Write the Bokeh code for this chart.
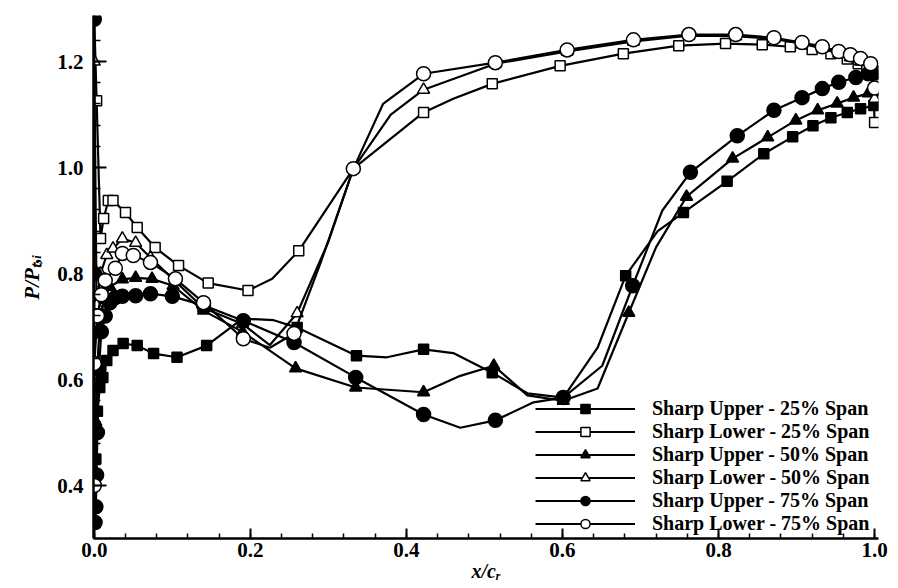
from bokeh.plotting import figure
from bokeh.models import (Range1d, FixedTicker, NumeralTickFormatter,
                          Legend, LegendItem, ColumnDataSource)
from bokeh.embed import file_html
from bokeh.resources import INLINE

# ---------------- data ----------------
su25_x = [0.0, 0.002, 0.004, 0.007, 0.011, 0.016, 0.024, 0.037, 0.055, 0.076, 0.106, 0.144,
          0.19, 0.23, 0.26, 0.336, 0.375, 0.422, 0.46, 0.51, 0.555, 0.601, 0.645, 0.681,
          0.722, 0.755, 0.811, 0.858, 0.895, 0.921, 0.944, 0.965, 0.982, 0.999]
su25_y = [0.36, 0.45, 0.54, 0.585, 0.604, 0.636, 0.655, 0.668, 0.664, 0.649, 0.642, 0.664,
          0.715, 0.712, 0.698, 0.645, 0.642, 0.657, 0.65, 0.613, 0.574, 0.566, 0.66, 0.796,
          0.88, 0.915, 0.974, 1.026, 1.058, 1.079, 1.094, 1.104, 1.111, 1.117]
su25_m = [1, 1, 1, 1, 1, 1, 1, 1, 1, 1, 1, 1,
          0, 0, 1, 1, 0, 1, 0, 1, 0, 1, 0, 1,
          0, 1, 1, 1, 1, 1, 1, 1, 1, 1]

sl25_x = [0.0, 0.003, 0.008, 0.012, 0.018, 0.024, 0.04, 0.055, 0.078, 0.108, 0.146, 0.197,
          0.228, 0.262, 0.332, 0.422, 0.46, 0.51, 0.597, 0.678, 0.749, 0.809, 0.856, 0.892,
          0.92, 0.944, 0.965, 0.979, 0.99, 0.998, 1.0]
sl25_y = [1.28, 1.126, 0.866, 0.904, 0.938, 0.938, 0.915, 0.887, 0.849, 0.815, 0.782, 0.768,
          0.79, 0.843, 0.998, 1.104, 1.13, 1.158, 1.192, 1.215, 1.23, 1.234, 1.232, 1.228,
          1.223, 1.215, 1.205, 1.196, 1.185, 1.175, 1.085]
sl25_m = [0, 1, 1, 1, 1, 1, 1, 1, 1, 1, 1, 1,
          0, 1, 0, 1, 0, 1, 1, 1, 1, 1, 1, 1,
          1, 1, 1, 1, 1, 1, 1]

su50_x = [0.0, 0.002, 0.004, 0.007, 0.012, 0.02, 0.036, 0.053, 0.074, 0.101, 0.14, 0.19,
          0.258, 0.335, 0.422, 0.469, 0.512, 0.555, 0.601, 0.645, 0.685, 0.72, 0.759, 0.818,
          0.863, 0.899, 0.927, 0.952, 0.973, 0.992, 1.0]
su50_y = [0.40, 0.52, 0.63, 0.70, 0.75, 0.775, 0.789, 0.792, 0.79, 0.777, 0.73, 0.69,
          0.621, 0.585, 0.576, 0.607, 0.626, 0.57, 0.56, 0.583, 0.726, 0.85, 0.945, 1.017,
          1.057, 1.089, 1.108, 1.121, 1.132, 1.14, 1.142]
su50_m = [1, 1, 1, 1, 1, 1, 1, 1, 1, 1, 1, 1,
          1, 1, 1, 0, 1, 0, 1, 0, 1, 0, 1, 1,
          1, 1, 1, 1, 1, 1, 1]

sl50_x = [0.0, 0.003, 0.008, 0.016, 0.024, 0.036, 0.053, 0.072, 0.104, 0.14, 0.19, 0.225,
          0.26, 0.30, 0.332, 0.38, 0.422, 0.514, 0.606, 0.691, 0.762, 0.822, 0.871, 0.907,
          0.933, 0.954, 0.969, 0.982, 0.995, 1.0]
sl50_y = [1.2, 0.74, 0.80, 0.835, 0.847, 0.866, 0.858, 0.83, 0.785, 0.735, 0.705, 0.665,
          0.725, 0.86, 0.998, 1.10, 1.147, 1.196, 1.219, 1.238, 1.249, 1.248, 1.243, 1.234,
          1.225, 1.215, 1.208, 1.2, 1.185, 1.13]
sl50_m = [1, 1, 1, 1, 1, 1, 1, 1, 1, 1, 1, 0,
          1, 0, 0, 0, 1, 1, 1, 1, 1, 1, 1, 1,
          1, 1, 1, 1, 1, 1]

su75_x = [0.0, 0.0, 0.001, 0.002, 0.003, 0.004, 0.006, 0.009, 0.014, 0.02, 0.027, 0.036,
          0.053, 0.072, 0.1, 0.14, 0.191, 0.256, 0.335, 0.422, 0.469, 0.514, 0.563, 0.601,
          0.651, 0.69, 0.728, 0.764, 0.824, 0.871, 0.907, 0.933, 0.954, 0.976, 0.992, 1.0]
su75_y = [1.28, 0.80, 0.33, 0.36, 0.42, 0.50, 0.62, 0.69, 0.72, 0.745, 0.755, 0.757,
          0.758, 0.762, 0.757, 0.74, 0.711, 0.67, 0.604, 0.534, 0.509, 0.523, 0.557, 0.566,
          0.626, 0.777, 0.919, 0.991, 1.06, 1.108, 1.132, 1.149, 1.161, 1.17, 1.177, 1.18]
su75_m = [1, 1, 1, 1, 1, 1, 1, 1, 1, 1, 1, 1,
          1, 1, 1, 1, 1, 1, 1, 1, 0, 1, 0, 1,
          0, 1, 0, 1, 1, 1, 1, 1, 1, 1, 1, 1]

sl75_x = [0.0, 0.0, 0.004, 0.009, 0.014, 0.027, 0.036, 0.05, 0.072, 0.104, 0.14, 0.191,
          0.225, 0.256, 0.29, 0.332, 0.37, 0.422, 0.514, 0.606, 0.691, 0.762, 0.822, 0.871,
          0.907, 0.933, 0.954, 0.969, 0.982, 0.995, 1.0]
sl75_y = [0.40, 0.63, 0.72, 0.76, 0.787, 0.81, 0.838, 0.834, 0.821, 0.79, 0.745, 0.677,
          0.66, 0.687, 0.82, 0.998, 1.12, 1.177, 1.198, 1.222, 1.241, 1.251, 1.251, 1.245,
          1.236, 1.228, 1.219, 1.213, 1.206, 1.196, 1.15]
sl75_m = [1, 1, 1, 1, 1, 1, 1, 1, 1, 1, 1, 1,
          0, 1, 0, 1, 0, 1, 1, 1, 1, 1, 1, 1,
          1, 1, 1, 1, 1, 1, 1]

series_names = ["Sharp Upper - 25% Span", "Sharp Lower - 25% Span",
                "Sharp Upper - 50% Span", "Sharp Lower - 50% Span",
                "Sharp Upper - 75% Span", "Sharp Lower - 75% Span"]

x_ticks = [0.0, 0.2, 0.4, 0.6, 0.8, 1.0]
y_ticks = [0.4, 0.6, 0.8, 1.0, 1.2]
x_title = "x/c\u1d63"
y_title = "P/P\u209c,\u1d62"

# ---------------- figure ----------------
p = figure(width=898, height=588, output_backend="svg", toolbar_location=None,
           x_range=Range1d(-0.001, 1.005), y_range=Range1d(0.30, 1.287),
           min_border_left=93, min_border_right=20, min_border_top=15,
           min_border_bottom=50)
p.outline_line_color = None
p.xgrid.visible = False
p.ygrid.visible = False
p.background_fill_color = "white"

FONT = "Liberation Serif"

for ax in (p.xaxis[0], p.yaxis[0]):
    ax.axis_line_color = "black"
    ax.axis_line_width = 2.5
    ax.major_tick_line_color = "black"
    ax.minor_tick_line_color = "black"
    ax.major_tick_line_width = 2
    ax.minor_tick_line_width = 1.5
    ax.major_tick_out = 0
    ax.minor_tick_out = 0
    ax.major_label_text_font = FONT
    ax.major_label_text_font_style = "bold"
    ax.major_label_text_font_size = "21px"
    ax.major_label_text_color = "black"
    ax.formatter = NumeralTickFormatter(format="0.0")
    ax.axis_label_text_font = FONT
    ax.axis_label_text_font_style = "bold italic"
    ax.axis_label_text_color = "black"

p.xaxis.axis_label = x_title
p.yaxis.axis_label = y_title
p.xaxis.axis_label_text_font_size = "20px"
p.yaxis.axis_label_text_font_size = "21px"
p.xaxis.axis_label_standoff = 0
p.yaxis.axis_label_standoff = 10

p.xaxis.ticker = FixedTicker(ticks=x_ticks, minor_ticks=[round(0.04 * i, 2) for i in range(26)])
p.yaxis.ticker = FixedTicker(ticks=y_ticks, minor_ticks=[round(0.32 + 0.04 * i, 2) for i in range(25)])
p.xaxis.major_tick_in = 10
p.xaxis.minor_tick_in = 5
p.yaxis.major_tick_in = 13
p.yaxis.minor_tick_in = 7
p.xaxis.major_label_standoff = 4
p.yaxis.major_label_standoff = 10

styles = [
    dict(marker="square", size=10, fill="black"),
    dict(marker="square", size=10, fill="white"),
    dict(marker="triangle", size=12, fill="black"),
    dict(marker="triangle", size=12, fill="white"),
    dict(marker="circle", size=14, fill="black"),
    dict(marker="circle", size=14, fill="white"),
]
data = [(su25_x, su25_y, su25_m), (sl25_x, sl25_y, sl25_m),
        (su50_x, su50_y, su50_m), (sl50_x, sl50_y, sl50_m),
        (su75_x, su75_y, su75_m), (sl75_x, sl75_y, sl75_m)]

items = []
for name, (xs, ys, ms), st in zip(series_names, data, styles):
    lr = p.line(xs, ys, line_color="black", line_width=2.2)
    mx = [x for x, m in zip(xs, ms) if m]
    my = [y for y, m in zip(ys, ms) if m]
    src = ColumnDataSource(dict(x=mx, y=my))
    sr = p.scatter("x", "y", source=src, marker=st["marker"], size=st["size"],
                   fill_color=st["fill"], line_color="black", line_width=1.5)
    items.append(LegendItem(label=name, renderers=[lr, sr]))

legend = Legend(items=items, location=(442, 3), glyph_width=100, glyph_height=23,
                label_height=23, spacing=0, padding=0, margin=0, label_standoff=17,
                background_fill_alpha=0, border_line_alpha=0,
                label_text_font=FONT, label_text_font_style="bold",
                label_text_font_size="20px", label_text_color="black")
p.add_layout(legend)

open("out.html", "w").write(file_html(p, INLINE))
